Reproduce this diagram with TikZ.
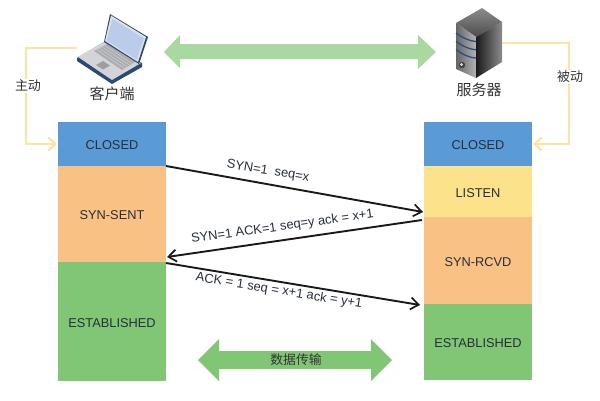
\documentclass[tikz,border=0pt]{standalone}
\usepackage{fontspec}
\setmainfont{Liberation Sans}
\newfontfamily\cjk{Noto Sans CJK SC}
\usetikzlibrary{arrows.meta,calc}
\definecolor{blockblue}{HTML}{5B9BD5}
\definecolor{blockorange}{HTML}{F9C184}
\definecolor{blockyellow}{HTML}{FDE28C}
\definecolor{blockgreen}{HTML}{80C675}
\definecolor{palegreen}{HTML}{A9D9A0}
\definecolor{linkyellow}{HTML}{FCE5A0}
\definecolor{inktext}{HTML}{262F3A}
\definecolor{lapnavy}{HTML}{2A4A75}
\definecolor{lapscreen}{HTML}{BBCBEC}
\definecolor{lapbody}{HTML}{D2D4D8}
\definecolor{lapkeys}{HTML}{ABADB1}
\definecolor{rackblue}{HTML}{2B4C86}
\tikzset{
  state/.style={minimum width=108pt,inner sep=0pt,outer sep=0pt,text=inktext,text height=11pt,text depth=0pt,font=\fontsize{12.8}{14}\selectfont},
  msg/.style={black!90,line width=1.9pt,-{Straight Barb[length=8pt,width=12pt,line width=1.7pt]}},
  msglabel/.style={text=inktext,inner sep=0pt,font=\fontsize{12.9}{14}\selectfont},
  link/.style={linkyellow,line width=2.4pt},
  linkhead/.style={link,-{Straight Barb[length=7pt,width=13pt,line width=2.2pt]}},
  cjklabel/.style={text=black!80,fill=white,inner sep=1.5pt,font=\cjk\fontsize{13}{15}\selectfont},
  hostlabel/.style={text=black!80,inner sep=0pt,font=\cjk\fontsize{15}{18}\selectfont},
}
\begin{document}
\begin{tikzpicture}[x=1pt,y=-1pt]
\useasboundingbox (0,0) rectangle (600,400);
\fill[white] (0,0) rectangle (600,400);

% client states
\node[state,fill=blockblue,minimum height=44pt,anchor=north west] (c1) at (58,122) {CLOSED};
\node[state,fill=blockorange,minimum height=96pt,anchor=north west] (c2) at (58,166) {SYN-SENT};
\node[state,fill=blockgreen,minimum height=119pt,anchor=north west] (c3) at (58,262) {ESTABLISHED};
% server states
\node[state,fill=blockblue,minimum height=44pt,anchor=north west] (s1) at (424,122) {CLOSED};
\node[state,fill=blockyellow,minimum height=51pt,anchor=north west] (s2) at (424,166) {LISTEN};
\node[state,fill=blockorange,minimum height=87pt,anchor=north west] (s3) at (424,217) {SYN-RCVD};
\node[state,fill=blockgreen,minimum height=76pt,anchor=north west] (s4) at (424,304) {ESTABLISHED};

% wide double arrows
\fill[palegreen] (164,52)--(180,35)--(180,44)--(418,44)--(418,35)--(436,52)--(418,69)--(418,59)--(180,59)--(180,68)--cycle;
\fill[blockgreen] (198,360)--(219,339)--(219,351)--(371,351)--(371,339)--(392,360)--(371,381)--(371,369)--(219,369)--(219,381)--cycle;
\node[text=black!80,inner sep=0pt,font=\cjk\fontsize{12.8}{14}\selectfont] (dt) at (296,360) {数据传输};

% handshake messages
\coordinate (m1a) at (c2.north east);
\coordinate (m1b) at ($(s2.south west)+(-1,-5)$);
\coordinate (m2a) at ($(s3.north west)+(-2,3)$);
\coordinate (m2b) at ($(c2.south east)+(1,-5)$);
\coordinate (m3a) at ($(c3.north east)+(0,1)$);
\coordinate (m3b) at ($(s4.north west)+(-4,1)$);
\draw[msg] (m1a) -- (m1b);
\draw[msg] (m2a) -- (m2b);
\draw[msg] (m3a) -- (m3b);
\node[msglabel,rotate=-9.2] (l1) at (268,171.5) {SYN=1\ \ seq=x};
\node[msglabel,rotate=7.9] (l2) at (282.5,227) {SYN=1 ACK=1 seq=y ack = x+1};
\node[msglabel,rotate=-9.3] (l3) at (279,291) {ACK = 1 seq = x+1 ack = y+1};

% laptop: base, keyboard, trackpad, lid
\fill[lapnavy] (77,58) -- (104,42) -- (142,63) -- (142,67) -- (112,84) -- (77,61) -- cycle;
\fill[lapbody] (78,57) -- (104,42) -- (141,63) -- (112,80) -- cycle;
\fill[lapkeys] (94,51) -- (107,44) -- (135,62) -- (122,70) -- cycle;
\foreach \k in {0.2,0.4,0.6,0.8}
  \draw[lapbody,line width=0.4pt] ($(94,51)!\k!(107,44)$) -- ($(122,70)!\k!(135,62)$);
\fill[black!38] (96,65) -- (103,61) -- (110,65.5) -- (103,69.5) -- cycle;
\fill[lapnavy] (110,14) -- (148,37) -- (139,64) -- (104,42) -- cycle;
\fill[black!12] (111,15.5) -- (146,37) -- (138,62) -- (105,41) -- cycle;
\fill[lapscreen] (112.5,19) -- (144,38.5) -- (136.5,59.5) -- (106.5,40.5) -- cycle;
\node[hostlabel] (client) at (112,94) {客户端};

% server tower
\shade[top color=black!45,bottom color=black!70] (482,8) -- (456,23) -- (476,37) -- (502,22) -- cycle;
\shade[left color=black!60,right color=black!30] (456,23) -- (476,37) -- (476,78) -- (456,69) -- cycle;
\shade[left color=black!90,right color=black!45] (476,37) -- (502,22) -- (502,62) -- (476,78) -- cycle;
\foreach \b in {0,8.3,16.6}
  \draw[rackblue,line width=1.3pt] (456,{33+\b}) .. controls (463,{38+\b}) and (469,{41+\b}) .. (476,{41.5+\b});
\fill[black!75] (462,65) circle (3.2pt);
\fill[white!85!black] (461.5,64.5) circle (1.6pt);
\node[hostlabel] (server) at (479,90) {服务器};

% role links to the first state
\coordinate (clientout) at (77,48);
\coordinate (serverout) at (502,43);
\draw[linkhead] (clientout) -- (26,48) -- (26,144) -- ($(c1.west)+(-1,0)$);
\draw[linkhead] (serverout) -- (569,43) -- (569,144) -- ($(s1.east)+(1,0)$);
\node[cjklabel] (act) at (28,86) {主动};
\node[cjklabel] (pas) at (570,77) {被动};
\end{tikzpicture}
\end{document}
